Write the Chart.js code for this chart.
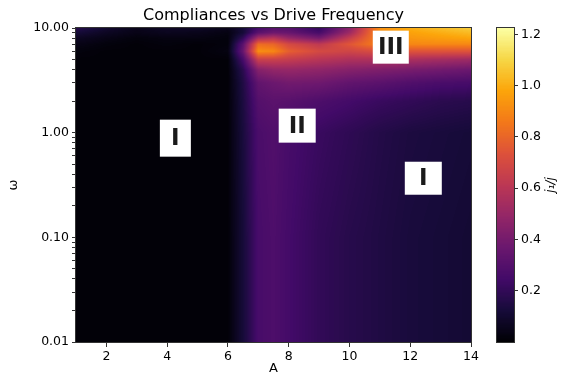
<!DOCTYPE html>
<html>
<head>
<meta charset="utf-8">
<script src="https://cdn.jsdelivr.net/npm/chart.js@4.4.1/dist/chart.umd.min.js"></script>
<style>
  body { margin: 0; background: #fff; }
  #wrap { position: relative; width: 565px; height: 376px; }
  #main { position: absolute; left: 0; top: 0; }
  #cbar { position: absolute; left: 490px; top: 0; }
</style>
</head>
<body>
<div id="wrap">
  <canvas id="main" width="490" height="376"></canvas>
  <canvas id="cbar" width="75" height="376"></canvas>
</div>
<script>
'use strict';

// ── Data ────────────────────────────────────────────────────────
const A_VALUES = [1, 2, 3, 4, 5, 6, 6.5, 7, 7.5, 8, 9, 10, 11, 12, 13, 14];
const OMEGA_VALUES = [0.01, 0.1, 1, 2, 3, 4, 5, 6, 7, 8, 9, 10];

// one row per omega, one entry per A
const COMPLIANCE = [
  [0.01, 0.01, 0.01, 0.01, 0.01, 0.01, 0.12, 0.26, 0.28, 0.25, 0.20, 0.17, 0.15, 0.13, 0.12, 0.11],
  [0.01, 0.01, 0.01, 0.01, 0.01, 0.01, 0.12, 0.26, 0.28, 0.25, 0.20, 0.17, 0.15, 0.13, 0.12, 0.11],
  [0.01, 0.01, 0.01, 0.01, 0.01, 0.01, 0.13, 0.27, 0.29, 0.26, 0.22, 0.19, 0.16, 0.14, 0.13, 0.12],
  [0.01, 0.01, 0.01, 0.01, 0.01, 0.01, 0.14, 0.30, 0.32, 0.31, 0.28, 0.25, 0.22, 0.20, 0.18, 0.17],
  [0.01, 0.01, 0.01, 0.01, 0.01, 0.01, 0.15, 0.34, 0.37, 0.39, 0.38, 0.34, 0.32, 0.29, 0.27, 0.26],
  [0.01, 0.01, 0.01, 0.01, 0.01, 0.01, 0.18, 0.45, 0.49, 0.50, 0.48, 0.45, 0.43, 0.41, 0.39, 0.37],
  [0.01, 0.01, 0.01, 0.01, 0.01, 0.01, 0.26, 0.66, 0.66, 0.64, 0.60, 0.57, 0.57, 0.56, 0.54, 0.52],
  [0.02, 0.01, 0.01, 0.01, 0.01, 0.03, 0.36, 0.92, 0.90, 0.78, 0.70, 0.68, 0.72, 0.74, 0.74, 0.74],
  [0.04, 0.02, 0.01, 0.02, 0.01, 0.02, 0.32, 0.82, 0.80, 0.70, 0.62, 0.75, 0.88, 0.90, 0.90, 0.90],
  [0.07, 0.04, 0.02, 0.03, 0.03, 0.02, 0.20, 0.55, 0.60, 0.50, 0.40, 0.64, 0.90, 0.94, 0.96, 0.98],
  [0.12, 0.07, 0.04, 0.06, 0.05, 0.03, 0.12, 0.32, 0.38, 0.36, 0.26, 0.52, 0.92, 0.97, 1.00, 1.03],
  [0.17, 0.10, 0.05, 0.08, 0.08, 0.05, 0.12, 0.25, 0.30, 0.30, 0.20, 0.46, 0.92, 1.00, 1.04, 1.08]
];

const X_TICKS = [2, 4, 6, 8, 10, 12, 14];
const Y_MAJOR_TICKS = [0.01, 0.1, 1, 10];
const CBAR_TICKS = [0.2, 0.4, 0.6, 0.8, 1.0, 1.2];

const REGION_LABELS = ['I', 'II', 'I', 'III'];
const REGION_A = [4.27, 8.28, 12.43, 11.36];
const REGION_OMEGA = [0.886, 1.167, 0.367, 6.56];

const VMIN = 0;
const VMAX = 1.225;

// ── Style ───────────────────────────────────────────────────────
const FONT = 'DejaVu Sans';
const BOX_SIZES = [[31, 37], [37, 34], [37, 33], [36, 33]];
const INFERNO = ['#000004', '#160b39', '#420a68', '#6a176e', '#932667', '#bc3754',
                 '#dd513a', '#f37819', '#fca50a', '#f6d746', '#fcffa4'];

// ── Colormap ────────────────────────────────────────────────────
const LUT = buildLut(INFERNO, 256);

function buildLut(stops, n) {
  const rgb = stops.map(h => [1, 3, 5].map(k => parseInt(h.substr(k, 2), 16)));
  const out = [];
  for (let i = 0; i < n; i++) {
    const t = i / (n - 1) * (rgb.length - 1);
    const j = Math.min(Math.floor(t), rgb.length - 2);
    const f = t - j;
    out.push(rgb[j].map((c, k) => Math.round(c + (rgb[j + 1][k] - c) * f)));
  }
  return out;
}

function colorFor(v) {
  let t = (v - VMIN) / (VMAX - VMIN);
  t = Math.max(0, Math.min(1, t));
  return LUT[Math.round(t * 255)];
}

// ── Grid sampling (bilinear in A and log omega) ─────────────────
const LOG_OMEGA = OMEGA_VALUES.map(Math.log10);

function locate(arr, v) {
  if (v <= arr[0]) return [0, 0];
  for (let i = 0; i < arr.length - 1; i++) {
    if (v <= arr[i + 1]) return [i, (v - arr[i]) / (arr[i + 1] - arr[i])];
  }
  return [arr.length - 2, 1];
}

function sample(a, omega) {
  const [i, fx] = locate(A_VALUES, a);
  const [j, fy] = locate(LOG_OMEGA, Math.log10(omega));
  const r0 = COMPLIANCE[j], r1 = COMPLIANCE[j + 1];
  const v0 = r0[i] + (r0[i + 1] - r0[i]) * fx;
  const v1 = r1[i] + (r1[i + 1] - r1[i]) * fx;
  return v0 + (v1 - v0) * fy;
}

// ── Plugins ─────────────────────────────────────────────────────
const heatmapPlugin = {
  id: 'heatmap',
  beforeDatasetsDraw(chart) {
    const { ctx, chartArea: area, scales: { x, y } } = chart;
    const w = Math.round(area.right - area.left);
    const h = Math.round(area.bottom - area.top);
    const off = document.createElement('canvas');
    off.width = w;
    off.height = h;
    const octx = off.getContext('2d');
    const img = octx.createImageData(w, h);
    for (let py = 0; py < h; py++) {
      const omega = y.getValueForPixel(area.top + py + 0.5);
      for (let px = 0; px < w; px++) {
        const a = x.getValueForPixel(area.left + px + 0.5);
        const c = colorFor(sample(a, omega));
        const k = (py * w + px) * 4;
        img.data[k] = c[0];
        img.data[k + 1] = c[1];
        img.data[k + 2] = c[2];
        img.data[k + 3] = 255;
      }
    }
    octx.putImageData(img, 0, 0);
    ctx.drawImage(off, area.left, area.top);
  },
  afterDatasetsDraw(chart) {
    const { ctx, chartArea: area, scales: { x, y } } = chart;
    ctx.save();
    ctx.strokeStyle = '#333';
    ctx.lineWidth = 1;
    ctx.strokeRect(area.left - 0.5, area.top - 0.5, area.right - area.left + 1, area.bottom - area.top + 1);

    ctx.font = 'bold 23px ' + FONT;
    ctx.textAlign = 'center';
    ctx.textBaseline = 'middle';
    REGION_LABELS.forEach((label, i) => {
      const cx = x.getPixelForValue(REGION_A[i]);
      const cy = y.getPixelForValue(REGION_OMEGA[i]);
      const [bw, bh] = BOX_SIZES[i];
      ctx.fillStyle = '#fff';
      ctx.fillRect(cx - bw / 2, cy - bh / 2, bw, bh);
      ctx.fillStyle = '#1a1a1a';
      ctx.fillText(label, cx, cy + 1);
    });
    ctx.restore();
  }
};

const colorbarPlugin = {
  id: 'colorbar',
  beforeDatasetsDraw(chart) {
    const { ctx, chartArea: area, scales: { y } } = chart;
    ctx.save();
    for (let py = Math.floor(area.top); py < Math.ceil(area.bottom); py++) {
      const c = colorFor(y.getValueForPixel(py + 0.5));
      ctx.fillStyle = `rgb(${c[0]},${c[1]},${c[2]})`;
      ctx.fillRect(area.left, py, area.right - area.left, 1);
    }
    ctx.strokeStyle = '#333';
    ctx.lineWidth = 1;
    ctx.strokeRect(area.left - 0.5, area.top - 0.5, area.right - area.left + 1, area.bottom - area.top + 1);

    // label reads bottom to top, like matplotlib
    ctx.translate(61, (area.top + area.bottom) / 2);
    ctx.rotate(-Math.PI / 2);
    ctx.font = 'italic 12px ' + FONT;
    ctx.fillStyle = '#000';
    ctx.textAlign = 'center';
    ctx.textBaseline = 'middle';
    ctx.fillText('j\u2081/j', 0, 0);
    ctx.restore();
  }
};

// ── Charts ──────────────────────────────────────────────────────
Chart.defaults.font.family = FONT;
Chart.defaults.color = '#000';

const yTicksAll = [];
Y_MAJOR_TICKS.forEach((d, i) => {
  yTicksAll.push(d);
  if (i < Y_MAJOR_TICKS.length - 1) {
    for (let k = 2; k <= 9; k++) yTicksAll.push(+(d * k).toPrecision(3));
  }
});

new Chart(document.getElementById('main'), {
  type: 'scatter',
  data: { datasets: [] },
  plugins: [heatmapPlugin],
  options: {
    responsive: false,
    animation: false,
    devicePixelRatio: 1,
    layout: { padding: { left: 0, right: 19, top: 0, bottom: 0 } },
    plugins: {
      legend: { display: false },
      tooltip: { enabled: false },
      title: {
        display: true,
        fullSize: false,
        text: 'Compliances vs Drive Frequency',
        font: { size: 16, weight: 'normal' },
        color: '#000',
        padding: { top: 6, bottom: 2.8 }
      }
    },
    scales: {
      x: {
        type: 'linear',
        min: 1,
        max: 14,
        afterBuildTicks: s => { s.ticks = X_TICKS.map(v => ({ value: v })); },
        afterFit: s => { s.height = 34; },
        ticks: { font: { size: 12.5 }, color: '#000', padding: 2, maxRotation: 0 },
        grid: { drawOnChartArea: false, tickLength: 5, color: '#333' },
        border: { color: '#333' },
        title: { display: true, text: 'A', font: { size: 13 }, color: '#000', padding: { top: 0, bottom: 0 } }
      },
      y: {
        type: 'logarithmic',
        min: 0.01,
        max: 10,
        afterBuildTicks: s => { s.ticks = yTicksAll.map(v => ({ value: v })); },
        afterFit: s => { s.width = 76; },
        ticks: {
          font: { size: 12.5 },
          color: '#000',
          padding: 3,
          autoSkip: false,
          callback: v => Y_MAJOR_TICKS.includes(v) ? v.toFixed(2) : ''
        },
        grid: { drawOnChartArea: false, tickLength: 4, color: '#333' },
        border: { color: '#333' },
        title: { display: true, text: 'ω', font: { size: 13 }, color: '#000', padding: { top: 6, bottom: 4 } }
      }
    }
  }
});

new Chart(document.getElementById('cbar'), {
  type: 'scatter',
  data: { datasets: [] },
  plugins: [colorbarPlugin],
  options: {
    responsive: false,
    animation: false,
    devicePixelRatio: 1,
    layout: { padding: { left: 7, right: 0, top: 28, bottom: 34 } },
    plugins: { legend: { display: false }, tooltip: { enabled: false } },
    scales: {
      x: { display: false },
      y: {
        type: 'linear',
        position: 'right',
        min: VMIN,
        max: VMAX,
        afterBuildTicks: s => { s.ticks = CBAR_TICKS.map(v => ({ value: v })); },
        afterFit: s => { s.width = 51; },
        ticks: { font: { size: 12.5 }, color: '#000', padding: 3, callback: v => v.toFixed(1) },
        grid: { drawOnChartArea: false, tickLength: 4, color: '#333' },
        border: { display: false }
      }
    }
  }
});
</script>
</body>
</html>
